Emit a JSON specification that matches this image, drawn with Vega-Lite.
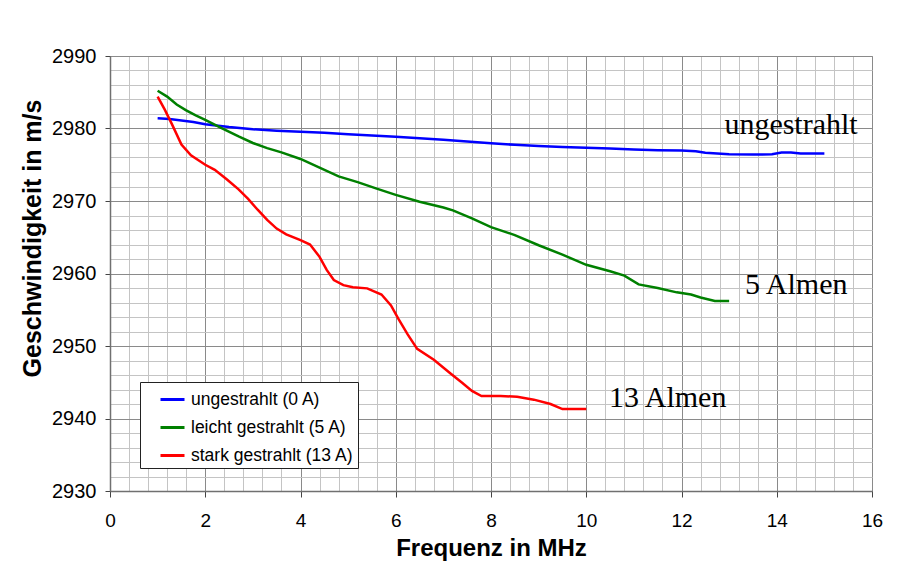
{
  "$schema": "https://vega.github.io/schema/vega-lite/v6.json",
  "width": 762,
  "height": 435,
  "autosize": {"type": "none"},
  "padding": {"left": 110, "top": 56, "right": 36, "bottom": 79},
  "background": "white",
  "config": {"view": {"stroke": "#a0a0a0", "strokeWidth": 1}, "font": "Liberation Sans"},
  "datasets": {
    "curves": [
      {"series": "ungestrahlt (0 A)", "freq": 1.0, "speed": 2981.4},
      {"series": "ungestrahlt (0 A)", "freq": 1.25, "speed": 2981.3},
      {"series": "ungestrahlt (0 A)", "freq": 1.5, "speed": 2981.1},
      {"series": "ungestrahlt (0 A)", "freq": 1.75, "speed": 2980.9},
      {"series": "ungestrahlt (0 A)", "freq": 2.0, "speed": 2980.6},
      {"series": "ungestrahlt (0 A)", "freq": 2.5, "speed": 2980.2},
      {"series": "ungestrahlt (0 A)", "freq": 3.0, "speed": 2979.9},
      {"series": "ungestrahlt (0 A)", "freq": 3.5, "speed": 2979.7},
      {"series": "ungestrahlt (0 A)", "freq": 4.0, "speed": 2979.55},
      {"series": "ungestrahlt (0 A)", "freq": 4.5, "speed": 2979.4},
      {"series": "ungestrahlt (0 A)", "freq": 5.0, "speed": 2979.2},
      {"series": "ungestrahlt (0 A)", "freq": 5.5, "speed": 2979.05},
      {"series": "ungestrahlt (0 A)", "freq": 6.0, "speed": 2978.87},
      {"series": "ungestrahlt (0 A)", "freq": 6.5, "speed": 2978.65},
      {"series": "ungestrahlt (0 A)", "freq": 7.0, "speed": 2978.45},
      {"series": "ungestrahlt (0 A)", "freq": 7.5, "speed": 2978.2},
      {"series": "ungestrahlt (0 A)", "freq": 8.0, "speed": 2977.96},
      {"series": "ungestrahlt (0 A)", "freq": 8.5, "speed": 2977.75},
      {"series": "ungestrahlt (0 A)", "freq": 9.0, "speed": 2977.6},
      {"series": "ungestrahlt (0 A)", "freq": 9.5, "speed": 2977.45},
      {"series": "ungestrahlt (0 A)", "freq": 10.0, "speed": 2977.36},
      {"series": "ungestrahlt (0 A)", "freq": 10.5, "speed": 2977.25},
      {"series": "ungestrahlt (0 A)", "freq": 11.0, "speed": 2977.1},
      {"series": "ungestrahlt (0 A)", "freq": 11.5, "speed": 2977.0},
      {"series": "ungestrahlt (0 A)", "freq": 12.0, "speed": 2976.95},
      {"series": "ungestrahlt (0 A)", "freq": 12.3, "speed": 2976.85},
      {"series": "ungestrahlt (0 A)", "freq": 12.5, "speed": 2976.65},
      {"series": "ungestrahlt (0 A)", "freq": 13.0, "speed": 2976.45},
      {"series": "ungestrahlt (0 A)", "freq": 13.5, "speed": 2976.4},
      {"series": "ungestrahlt (0 A)", "freq": 13.9, "speed": 2976.45},
      {"series": "ungestrahlt (0 A)", "freq": 14.1, "speed": 2976.7},
      {"series": "ungestrahlt (0 A)", "freq": 14.3, "speed": 2976.7},
      {"series": "ungestrahlt (0 A)", "freq": 14.5, "speed": 2976.55},
      {"series": "ungestrahlt (0 A)", "freq": 15.0, "speed": 2976.55},
      {"series": "leicht gestrahlt (5 A)", "freq": 1.0, "speed": 2985.2},
      {"series": "leicht gestrahlt (5 A)", "freq": 1.2, "speed": 2984.4},
      {"series": "leicht gestrahlt (5 A)", "freq": 1.4, "speed": 2983.3},
      {"series": "leicht gestrahlt (5 A)", "freq": 1.6, "speed": 2982.5},
      {"series": "leicht gestrahlt (5 A)", "freq": 1.8, "speed": 2981.8},
      {"series": "leicht gestrahlt (5 A)", "freq": 2.0, "speed": 2981.2},
      {"series": "leicht gestrahlt (5 A)", "freq": 2.3, "speed": 2980.2},
      {"series": "leicht gestrahlt (5 A)", "freq": 2.7, "speed": 2978.9},
      {"series": "leicht gestrahlt (5 A)", "freq": 3.0, "speed": 2978.0},
      {"series": "leicht gestrahlt (5 A)", "freq": 3.3, "speed": 2977.3},
      {"series": "leicht gestrahlt (5 A)", "freq": 3.6, "speed": 2976.7},
      {"series": "leicht gestrahlt (5 A)", "freq": 4.0, "speed": 2975.8},
      {"series": "leicht gestrahlt (5 A)", "freq": 4.4, "speed": 2974.6},
      {"series": "leicht gestrahlt (5 A)", "freq": 4.8, "speed": 2973.4},
      {"series": "leicht gestrahlt (5 A)", "freq": 5.2, "speed": 2972.6},
      {"series": "leicht gestrahlt (5 A)", "freq": 5.6, "speed": 2971.7},
      {"series": "leicht gestrahlt (5 A)", "freq": 6.0, "speed": 2970.85},
      {"series": "leicht gestrahlt (5 A)", "freq": 6.5, "speed": 2969.9},
      {"series": "leicht gestrahlt (5 A)", "freq": 7.0, "speed": 2969.1},
      {"series": "leicht gestrahlt (5 A)", "freq": 7.2, "speed": 2968.7},
      {"series": "leicht gestrahlt (5 A)", "freq": 7.6, "speed": 2967.6},
      {"series": "leicht gestrahlt (5 A)", "freq": 8.0, "speed": 2966.4},
      {"series": "leicht gestrahlt (5 A)", "freq": 8.5, "speed": 2965.3},
      {"series": "leicht gestrahlt (5 A)", "freq": 9.0, "speed": 2963.9},
      {"series": "leicht gestrahlt (5 A)", "freq": 9.5, "speed": 2962.6},
      {"series": "leicht gestrahlt (5 A)", "freq": 10.0, "speed": 2961.2},
      {"series": "leicht gestrahlt (5 A)", "freq": 10.5, "speed": 2960.3},
      {"series": "leicht gestrahlt (5 A)", "freq": 10.8, "speed": 2959.7},
      {"series": "leicht gestrahlt (5 A)", "freq": 11.1, "speed": 2958.5},
      {"series": "leicht gestrahlt (5 A)", "freq": 11.5, "speed": 2958.0},
      {"series": "leicht gestrahlt (5 A)", "freq": 11.9, "speed": 2957.4},
      {"series": "leicht gestrahlt (5 A)", "freq": 12.2, "speed": 2957.1},
      {"series": "leicht gestrahlt (5 A)", "freq": 12.4, "speed": 2956.7},
      {"series": "leicht gestrahlt (5 A)", "freq": 12.7, "speed": 2956.2},
      {"series": "leicht gestrahlt (5 A)", "freq": 13.0, "speed": 2956.2},
      {"series": "stark gestrahlt (13 A)", "freq": 1.0, "speed": 2984.4},
      {"series": "stark gestrahlt (13 A)", "freq": 1.15, "speed": 2982.6},
      {"series": "stark gestrahlt (13 A)", "freq": 1.3, "speed": 2980.6},
      {"series": "stark gestrahlt (13 A)", "freq": 1.5, "speed": 2977.8},
      {"series": "stark gestrahlt (13 A)", "freq": 1.7, "speed": 2976.3},
      {"series": "stark gestrahlt (13 A)", "freq": 2.0, "speed": 2975.0},
      {"series": "stark gestrahlt (13 A)", "freq": 2.2, "speed": 2974.3},
      {"series": "stark gestrahlt (13 A)", "freq": 2.45, "speed": 2973.0},
      {"series": "stark gestrahlt (13 A)", "freq": 2.7, "speed": 2971.6},
      {"series": "stark gestrahlt (13 A)", "freq": 2.9, "speed": 2970.3},
      {"series": "stark gestrahlt (13 A)", "freq": 3.1, "speed": 2968.8},
      {"series": "stark gestrahlt (13 A)", "freq": 3.3, "speed": 2967.4},
      {"series": "stark gestrahlt (13 A)", "freq": 3.5, "speed": 2966.2},
      {"series": "stark gestrahlt (13 A)", "freq": 3.7, "speed": 2965.4},
      {"series": "stark gestrahlt (13 A)", "freq": 4.0, "speed": 2964.6},
      {"series": "stark gestrahlt (13 A)", "freq": 4.2, "speed": 2964.0},
      {"series": "stark gestrahlt (13 A)", "freq": 4.4, "speed": 2962.3},
      {"series": "stark gestrahlt (13 A)", "freq": 4.55, "speed": 2960.5},
      {"series": "stark gestrahlt (13 A)", "freq": 4.7, "speed": 2959.1},
      {"series": "stark gestrahlt (13 A)", "freq": 4.9, "speed": 2958.4},
      {"series": "stark gestrahlt (13 A)", "freq": 5.1, "speed": 2958.1},
      {"series": "stark gestrahlt (13 A)", "freq": 5.4, "speed": 2957.95},
      {"series": "stark gestrahlt (13 A)", "freq": 5.7, "speed": 2957.1},
      {"series": "stark gestrahlt (13 A)", "freq": 5.9, "speed": 2955.6},
      {"series": "stark gestrahlt (13 A)", "freq": 6.05, "speed": 2953.8},
      {"series": "stark gestrahlt (13 A)", "freq": 6.25, "speed": 2951.6},
      {"series": "stark gestrahlt (13 A)", "freq": 6.45, "speed": 2949.6},
      {"series": "stark gestrahlt (13 A)", "freq": 6.8, "speed": 2948.1},
      {"series": "stark gestrahlt (13 A)", "freq": 7.15, "speed": 2946.2},
      {"series": "stark gestrahlt (13 A)", "freq": 7.4, "speed": 2944.9},
      {"series": "stark gestrahlt (13 A)", "freq": 7.6, "speed": 2943.8},
      {"series": "stark gestrahlt (13 A)", "freq": 7.8, "speed": 2943.1},
      {"series": "stark gestrahlt (13 A)", "freq": 8.2, "speed": 2943.1},
      {"series": "stark gestrahlt (13 A)", "freq": 8.55, "speed": 2943.0},
      {"series": "stark gestrahlt (13 A)", "freq": 8.9, "speed": 2942.6},
      {"series": "stark gestrahlt (13 A)", "freq": 9.25, "speed": 2942.0},
      {"series": "stark gestrahlt (13 A)", "freq": 9.5, "speed": 2941.3},
      {"series": "stark gestrahlt (13 A)", "freq": 10.0, "speed": 2941.3}
    ],
    "notes": [
      {"label": "ungestrahlt", "freq": 14.3, "speed": 2979.2},
      {"label": "5 Almen", "freq": 14.41, "speed": 2957.2},
      {"label": "13 Almen", "freq": 11.71, "speed": 2941.6}
    ]
  },
  "layer": [
    {
      "data": {"name": "curves"},
      "mark": {"type": "line", "strokeWidth": 2.5},
      "encoding": {
        "x": {
          "field": "freq", "type": "quantitative",
          "scale": {"domain": [0, 16], "nice": false, "zero": false},
          "axis": {
            "title": "Frequenz in MHz",
            "values": [0,0.4,0.8,1.2,1.6,2,2.4,2.8,3.2,3.6,4,4.4,4.8,5.2,5.6,6,6.4,6.8,7.2,7.6,8,8.4,8.8,9.2,9.6,10,10.4,10.8,11.2,11.6,12,12.4,12.8,13.2,13.6,14,14.4,14.8,15.2,15.6,16],
            "tickCount": 200,
            "tickMinStep": 0.1,
            "format": ".0f",
            "labelExpr": "datum.value % 2 === 0 ? datum.label : ''",
            "labelOverlap": false, "labelFlush": false, "labelBound": false,
            "grid": true,
            "gridColor": {"condition": {"test": "datum.value % 2 === 0", "value": "#8a8a8a"}, "value": "#c4c4c4"},
            "gridWidth": 1,
            "tickColor": {"condition": {"test": "datum.value % 2 === 0", "value": "#444444"}, "value": "transparent"},
            "tickSize": 6,
            "domainColor": "#707070", "domainWidth": 1.5,
            "labelFontSize": 19, "labelColor": "#000000", "labelPadding": 14,
            "titleFontSize": 24, "titleFontWeight": "bold", "titleColor": "#000000",
            "titleBaseline": "alphabetic", "titleY": 64, "titleX": 381
          }
        },
        "y": {
          "field": "speed", "type": "quantitative",
          "scale": {"domain": [2930, 2990], "nice": false, "zero": false},
          "axis": {
            "title": "Geschwindigkeit in m/s",
            "values": [2930,2932,2934,2936,2938,2940,2942,2944,2946,2948,2950,2952,2954,2956,2958,2960,2962,2964,2966,2968,2970,2972,2974,2976,2978,2980,2982,2984,2986,2988,2990],
            "tickCount": 200,
            "format": "d",
            "labelExpr": "datum.value % 10 === 0 ? datum.label : ''",
            "labelOverlap": false, "labelFlush": false, "labelBound": false,
            "grid": true,
            "gridColor": {"condition": {"test": "datum.value % 10 === 0", "value": "#8a8a8a"}, "value": "#c4c4c4"},
            "gridWidth": 1,
            "tickColor": {"condition": {"test": "datum.value % 10 === 0", "value": "#444444"}, "value": "transparent"},
            "tickSize": 5,
            "domainColor": "#707070", "domainWidth": 1.5,
            "labelFontSize": 20, "labelColor": "#000000", "labelPadding": 9,
            "titleFontSize": 25, "titleFontWeight": "bold", "titleColor": "#000000",
            "titleAngle": -90, "titleBaseline": "alphabetic", "titleAlign": "center",
            "titleX": -70, "titleY": 182
          }
        },
        "color": {
          "field": "series", "type": "nominal",
          "scale": {
            "domain": ["ungestrahlt (0 A)", "leicht gestrahlt (5 A)", "stark gestrahlt (13 A)"],
            "range": ["#0000ff", "#008000", "#ff0000"]
          },
          "legend": {
            "orient": "none", "legendX": 30, "legendY": 326,
            "title": null,
            "direction": "vertical",
            "symbolType": "stroke", "symbolSize": 576, "symbolStrokeWidth": 3,
            "labelFontSize": 17.5, "labelFont": "Liberation Sans", "labelColor": "#000000",
            "labelLimit": 300, "labelOffset": 5,
            "strokeColor": "#222222", "fillColor": "#ffffff",
            "padding": 4, "rowPadding": 6, "symbolOffset": 15
          }
        }
      }
    },
    {
      "data": {"name": "notes"},
      "mark": {"type": "text", "font": "Liberation Serif", "fontSize": 30, "align": "center", "baseline": "alphabetic", "color": "#000000"},
      "encoding": {
        "x": {"field": "freq", "type": "quantitative"},
        "y": {"field": "speed", "type": "quantitative"},
        "text": {"field": "label", "type": "nominal"}
      }
    }
  ]
}
